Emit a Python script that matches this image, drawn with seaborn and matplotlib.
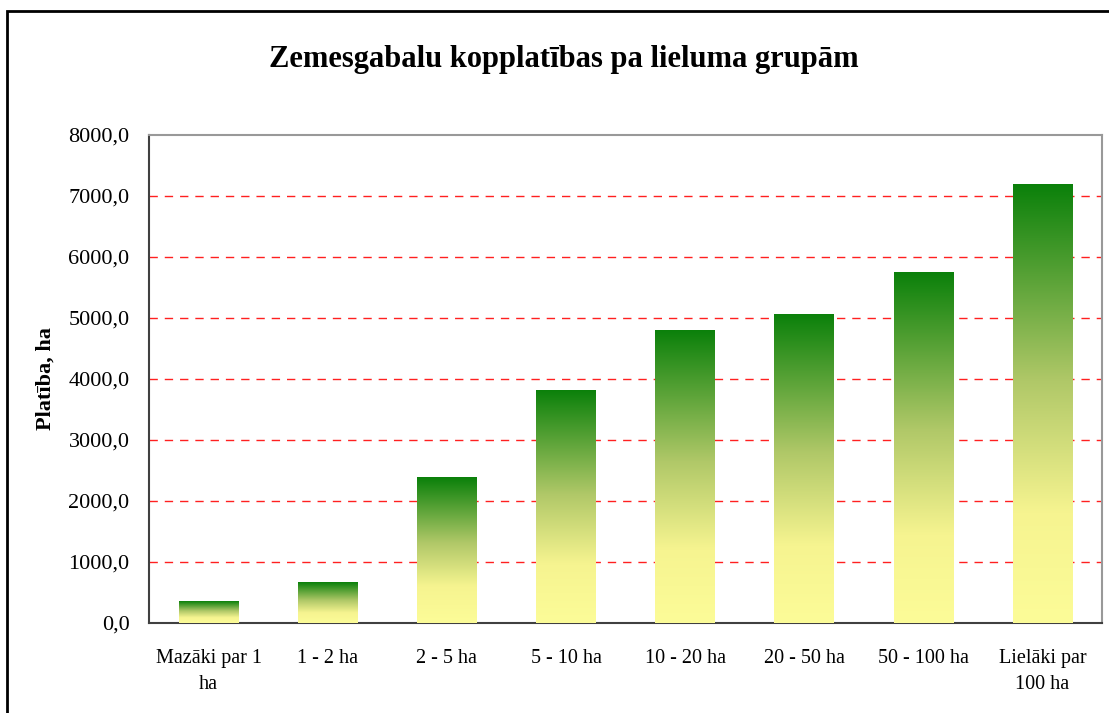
import numpy as np
import pandas as pd
import matplotlib
matplotlib.use('Agg')
from matplotlib import pyplot as plt
from matplotlib.colors import LinearSegmentedColormap
import seaborn as sns

# data
groups = ['Mazāki par 1\nha', '1 - 2 ha', '2 - 5 ha', '5 - 10 ha',
          '10 - 20 ha', '20 - 50 ha', '50 - 100 ha', 'Lielāki par\n100 ha']
area_ha = [360, 672, 2393, 3820, 4803, 5066, 5754, 7197]

df = pd.DataFrame({'group': groups, 'area': area_ha})

sns.set_style('white')
plt.rcParams['font.family'] = ['Liberation Serif', 'DejaVu Serif']
plt.rcParams['text.color'] = 'black'
plt.rcParams['xtick.color'] = 'black'
plt.rcParams['ytick.color'] = 'black'
plt.rcParams['axes.labelcolor'] = 'black'

fig = plt.figure(figsize=(11.09, 7.13), dpi=100)
ax = fig.add_axes([0.1344, 0.1262, 0.8593, 0.6845])

sns.barplot(data=df, x='group', y='area', width=0.5, color='white',
            linewidth=0, ax=ax, zorder=3)

# green on top, pale yellow at bottom, per bar
cmap = LinearSegmentedColormap.from_list(
    'gy', [(0.0, '#fcfc98'), (0.25, '#f6f490'), (0.55, '#b0c868'), (1.0, '#0a800a')])
grad = np.linspace(0, 1, 256).reshape(-1, 1)
for bar in ax.patches:
    x0, y0 = bar.get_x(), bar.get_y()
    w, h = bar.get_width(), bar.get_height()
    im = ax.imshow(grad, cmap=cmap, origin='lower', aspect='auto',
                   extent=[x0, x0 + w, y0, y0 + h], zorder=4)
    im.set_clip_path(bar)

ax.set_xlim(-0.5, len(groups) - 0.5)
ax.set_ylim(0, 8000)
ax.set_yticks(np.arange(0, 8001, 1000))
ax.set_yticklabels([f'{v:.1f}'.replace('.', ',') for v in np.arange(0, 8001, 1000)])
for v in np.arange(1000, 8000, 1000):
    ax.axhline(v, color='#ff2020', lw=1, ls=(0, (6, 5)), zorder=2)

ax.tick_params(axis='y', labelsize=16, length=0, pad=14)
ax.tick_params(axis='x', labelsize=14.5, length=0, pad=19)
for t in ax.get_xticklabels():
    t.set_linespacing(1.45)
ax.set_xlabel('')
ax.set_ylabel('Platība, ha', fontsize=16, fontweight='bold', labelpad=9)
for s in ['left', 'bottom']:
    ax.spines[s].set_color('#404040')
    ax.spines[s].set_linewidth(1.5)
for s in ['top', 'right']:
    ax.spines[s].set_color('#999999')
    ax.spines[s].set_linewidth(1.5)

fig.text(0.5085, 0.916, 'Zemesgabalu kopplatības pa lieluma grupām',
         ha='center', va='center', fontsize=22, fontweight='bold')

# outer chart frame
fig.patches.append(plt.Rectangle((7 / 1109, -0.05), 1.1, (713 - 11) / 713 + 0.05,
                                 transform=fig.transFigure, fill=False,
                                 edgecolor='black', lw=2))

fig.savefig('out.png', dpi=100)
